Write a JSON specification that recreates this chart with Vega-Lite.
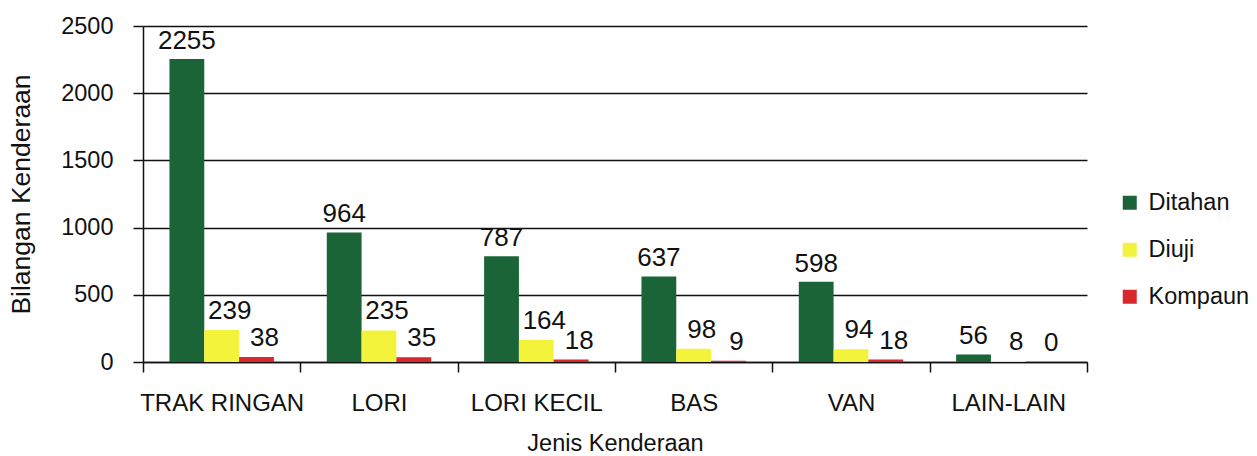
{
  "$schema": "https://vega.github.io/schema/vega-lite/v6.json",
  "width": 944,
  "height": 336,
  "autosize": {"type": "none"},
  "padding": {"left": 143, "top": 26, "right": 170, "bottom": 94},
  "background": "white",
  "config": {
    "view": {"stroke": null},
    "font": "Liberation Sans",
    "axis": {"labelColor": "#111111", "titleColor": "#111111", "titleFontWeight": "normal", "labelFont": "Liberation Sans", "titleFont": "Liberation Sans"},
    "legend": {"labelFont": "Liberation Sans"}
  },
  "data": {
    "values": [
      {"jenis": "TRAK RINGAN", "kategori": "Ditahan", "bilangan": 2255},
      {"jenis": "TRAK RINGAN", "kategori": "Diuji", "bilangan": 239},
      {"jenis": "TRAK RINGAN", "kategori": "Kompaun", "bilangan": 38},
      {"jenis": "LORI", "kategori": "Ditahan", "bilangan": 964},
      {"jenis": "LORI", "kategori": "Diuji", "bilangan": 235},
      {"jenis": "LORI", "kategori": "Kompaun", "bilangan": 35},
      {"jenis": "LORI KECIL", "kategori": "Ditahan", "bilangan": 787},
      {"jenis": "LORI KECIL", "kategori": "Diuji", "bilangan": 164},
      {"jenis": "LORI KECIL", "kategori": "Kompaun", "bilangan": 18},
      {"jenis": "BAS", "kategori": "Ditahan", "bilangan": 637},
      {"jenis": "BAS", "kategori": "Diuji", "bilangan": 98},
      {"jenis": "BAS", "kategori": "Kompaun", "bilangan": 9},
      {"jenis": "VAN", "kategori": "Ditahan", "bilangan": 598},
      {"jenis": "VAN", "kategori": "Diuji", "bilangan": 94},
      {"jenis": "VAN", "kategori": "Kompaun", "bilangan": 18},
      {"jenis": "LAIN-LAIN", "kategori": "Ditahan", "bilangan": 56},
      {"jenis": "LAIN-LAIN", "kategori": "Diuji", "bilangan": 8},
      {"jenis": "LAIN-LAIN", "kategori": "Kompaun", "bilangan": 0}
    ]
  },
  "encoding": {
    "x": {
      "field": "jenis",
      "type": "nominal",
      "sort": ["TRAK RINGAN", "LORI", "LORI KECIL", "BAS", "VAN", "LAIN-LAIN"],
      "scale": {"paddingInner": 0, "paddingOuter": 0},
      "axis": {
        "title": "Jenis Kenderaan",
        "titleFontSize": 23.5,
        "titlePadding": 16,
        "labelAngle": 0,
        "labelFontSize": 24,
        "labelPadding": 19,
        "tickBand": "extent",
        "tickSize": 10,
        "tickColor": "#111111",
        "tickWidth": 1.5,
        "domainColor": "#111111",
        "domainWidth": 1.5,
        "grid": false
      }
    },
    "xOffset": {
      "field": "kategori",
      "sort": ["Ditahan", "Diuji", "Kompaun"],
      "scale": {"paddingOuter": 0.76, "paddingInner": 0}
    },
    "y": {
      "field": "bilangan",
      "type": "quantitative",
      "scale": {"domain": [0, 2500], "nice": false},
      "axis": {
        "title": "Bilangan Kenderaan",
        "titleFontSize": 26.5,
        "titlePadding": 25,
        "values": [0, 500, 1000, 1500, 2000, 2500],
        "format": "d",
        "labelFontSize": 23.5,
        "labelPadding": 20,
        "tickSize": 10,
        "tickColor": "#111111",
        "tickWidth": 1.5,
        "grid": true,
        "gridColor": "#111111",
        "gridWidth": 1.5,
        "gridOpacity": 1,
        "domainColor": "#111111",
        "domainWidth": 1.5
      }
    }
  },
  "layer": [
    {
      "mark": {"type": "bar"},
      "encoding": {
        "color": {
          "field": "kategori",
          "type": "nominal",
          "sort": ["Ditahan", "Diuji", "Kompaun"],
          "scale": {"domain": ["Ditahan", "Diuji", "Kompaun"], "range": ["#1b6438", "#f3f33c", "#d8272d"]},
          "legend": {
            "title": null,
            "orient": "none",
            "legendX": 975,
            "legendY": 165,
            "symbolType": "square",
            "symbolSize": 196,
            "symbolStrokeWidth": 0,
            "labelFontSize": 23.5,
            "labelColor": "#111111",
            "labelOffset": 7,
            "rowPadding": 22
          }
        }
      }
    },
    {
      "transform": [{"filter": "datum.kategori === 'Ditahan'"}],
      "mark": {"type": "text", "fontSize": 26, "baseline": "alphabetic", "dy": -10, "color": "#111111"},
      "encoding": {"text": {"field": "bilangan", "type": "quantitative"}}
    },
    {
      "transform": [{"filter": "datum.kategori !== 'Ditahan'"}],
      "mark": {"type": "text", "fontSize": 26, "baseline": "alphabetic", "dy": -11, "dx": 8, "color": "#111111"},
      "encoding": {"text": {"field": "bilangan", "type": "quantitative"}}
    }
  ]
}
